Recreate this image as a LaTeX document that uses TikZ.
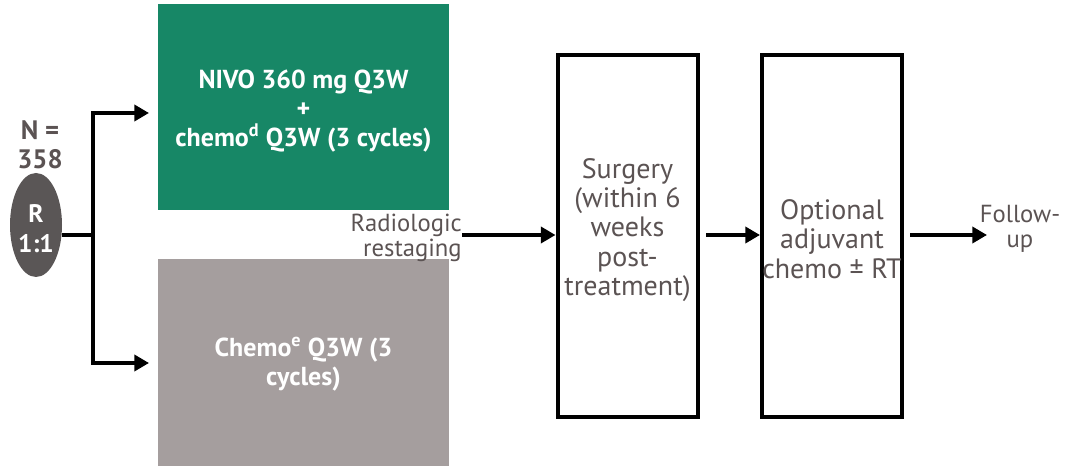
\documentclass[tikz,border=0pt]{standalone}
\usepackage{fontspec}
\setmainfont{PT Sans}
\usetikzlibrary{arrows.meta,shapes.geometric}
\definecolor{armgreen}{HTML}{178766}
\definecolor{armgray}{HTML}{A59E9E}
\definecolor{randgray}{HTML}{5A5656}
\definecolor{txtgray}{HTML}{5B5353}
\tikzset{
  arm/.style={draw=none, inner sep=0pt, minimum width=291*0.75pt},
  armtext/.style={text=white, font=\bfseries\fontsize{19.5}{22}\selectfont, align=center},
  stagebox/.style={draw=black, line width=3pt, minimum width=140pt*0.75, minimum height=362pt*0.75, inner sep=0pt},
  stagetext/.style={text=txtgray, font=\fontsize{21}{22}\selectfont, align=center, inner sep=0pt},
  plain/.style={text=txtgray, font=\fontsize{18.5}{19}\selectfont, align=center, inner sep=0pt},
  flow/.style={line width=3pt, -{Triangle[length=11pt,width=12pt]}},
}
\begin{document}
\begin{tikzpicture}[x=0.75pt,y=-0.75pt]
\useasboundingbox (0,0) rectangle (1081,466);
% treatment arms
\node[arm, fill=armgreen, minimum height=206*0.75pt] (nivo) at (303.5,107) {};
\node[armtext] (nivotxt) at (303.5,111) {NIVO 360 mg Q3W\\+\\chemo\textsuperscript{d} Q3W (3 cycles)};
\node[arm, fill=armgray, minimum height=207*0.75pt] (chemo) at (303.5,362.5) {};
\node[armtext] (chemotxt) at (303.5,364) {Chemo\textsuperscript{e} Q3W (3\\cycles)};
\coordinate (nivoin) at (149,113);
\coordinate (chemoin) at (149,363);
% randomisation
\node[ellipse, fill=randgray, minimum width=52*0.75pt, minimum height=104*0.75pt, inner sep=0pt] (rand) at (36,225) {};
\node[text=white, font=\bfseries\fontsize{19}{22.5}\selectfont, align=center, inner sep=0pt] (randtxt) at (36,229) {R\\1:1};
\node[plain, font=\bfseries\fontsize{20}{22}\selectfont] (n) at (40,145) {N =\\358};
\coordinate (split) at (93,235);
\draw[line width=3pt] (rand.east |- split) -- (split);
\draw[flow] (split) |- (nivoin);
\draw[flow] (split) |- (chemoin);
% restaging, surgery, adjuvant therapy, follow-up
\node[plain, align=right, anchor=east] (restage) at (462,238) {Radiologic\\restaging};
\node[stagebox] (surgery) at (627.5,236) {};
\node[stagetext] (surgerytxt) at (627.5,230) {Surgery\\(within 6\\weeks\\post-\\treatment)};
\node[stagebox] (adjuvant) at (832,236) {};
\node[stagetext] (adjuvanttxt) at (832,239) {Optional\\adjuvant\\chemo ± RT};
\node[plain] (follow) at (1020,229) {Follow-\\up};
\draw[flow] (restage.east |- 0,235) -- (surgery.west |- 0,235);
\draw[flow] (706,235) -- (adjuvant.west |- 0,235);
\draw[flow] (910,235) -- (987,235);
\end{tikzpicture}
\end{document}
